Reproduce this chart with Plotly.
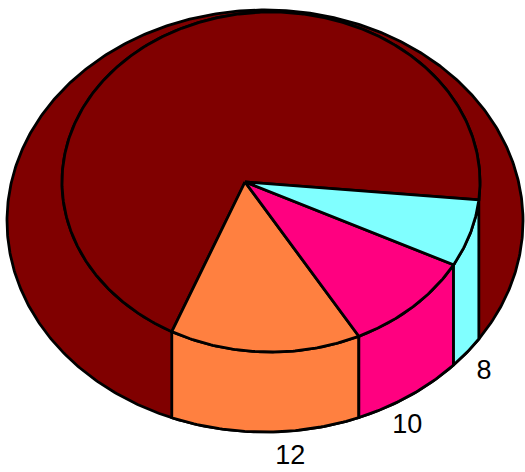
import numpy as np
import plotly.graph_objects as go

# ---- data ----
values = [70, 12, 10, 8]
value_labels = ["70", "12", "10", "8"]
show_label = [False, True, True, True]
colors = ["#800000", "#FF8040", "#FF0080", "#80FFFF"]

# ---- geometry / style (pixel-like drawing space) ----
W, H = 525, 472
top_c = (271.0, 182.0)      # top face ellipse centre
top_r = (209.0, 170.0)      # top face radii
out_c = (265.0, 221.0)      # outer (base) ellipse centre
out_r = (258.0, 211.0)      # outer radii
apex_dx = -26.0             # perspective offset of the pie centre
start_deg = 380.6           # start angle of first slice (deg, clockwise screen)
warp_amp = 21.3             # perspective angular warp (deg)
warp_phase = 157.4
label_scale, label_shift, label_pad = 0.63, 17.5, 26.0
edge = "black"
lw = 2.8
label_font = dict(family="Liberation Sans Narrow, Arial Narrow, Liberation Sans, Arial",
                  size=27, color="black")


def warp(theta):
    return theta + warp_amp * np.sin(np.radians(theta - warp_phase))


def top_pt(tdeg):
    t = np.radians(tdeg)
    return top_c[0] + top_r[0] * np.cos(t), top_c[1] + top_r[1] * np.sin(t)


def outer_lower_y(x):
    u = np.clip((x - out_c[0]) / out_r[0], -1, 1)
    return out_c[1] + out_r[1] * np.sqrt(1 - u ** 2)


fig = go.Figure()

# base / outer ellipse
tt = np.linspace(0, 2 * np.pi, 600)
fig.add_trace(go.Scatter(x=out_c[0] + out_r[0] * np.cos(tt), y=out_c[1] + out_r[1] * np.sin(tt),
                         mode="lines", fill="toself", fillcolor=colors[0],
                         line=dict(color=edge, width=lw), hoverinfo="skip"))

# top face outline
fig.add_trace(go.Scatter(x=top_c[0] + top_r[0] * np.cos(tt), y=top_c[1] + top_r[1] * np.sin(tt),
                         mode="lines", fill="toself", fillcolor=colors[0],
                         line=dict(color=edge, width=lw), hoverinfo="skip"))

total = float(sum(values))
bounds = [start_deg]
for v in values:
    bounds.append(bounds[-1] - v / total * 360.0)

apex = (top_c[0] + apex_dx, top_c[1])

walls = []
wedges = []
for i, v in enumerate(values):
    th_hi, th_lo = bounds[i], bounds[i + 1]
    t_hi, t_lo = warp(th_hi), warp(th_lo)
    ts = np.linspace(t_lo, t_hi, max(int(abs(t_hi - t_lo) * 2), 4))
    ax, ay = top_pt(ts)
    wedges.append((np.concatenate([[apex[0]], ax, [apex[0]]]),
                   np.concatenate([[apex[1]], ay, [apex[1]]]), colors[i]))
    lo = t_lo % 360.0
    hi = lo + (t_hi - t_lo)
    if 0 < lo and hi < 180:
        xa, xb = ax[0], ax[-1]
        xs = np.linspace(xb, xa, 60)
        wx = np.concatenate([ax, xs, [ax[0]]])
        wy = np.concatenate([ay, outer_lower_y(xs), [ay[0]]])
        walls.append((wx, wy, colors[i]))
        if show_label[i]:
            mid = ((th_hi + th_lo) / 2.0) % 360.0
            s = np.radians(label_scale * mid + label_shift)
            lx = out_c[0] + (out_r[0] + label_pad) * np.cos(s)
            ly = out_c[1] + (out_r[1] + label_pad) * np.sin(s)
            fig.add_trace(go.Scatter(x=[lx], y=[ly], mode="text", text=[value_labels[i]],
                                     textfont=label_font, hoverinfo="skip"))

for wx, wy, c in walls:
    fig.add_trace(go.Scatter(x=wx, y=wy, mode="lines", fill="toself", fillcolor=c,
                             line=dict(color=edge, width=lw), hoverinfo="skip"))
for wx, wy, c in wedges:
    fig.add_trace(go.Scatter(x=wx, y=wy, mode="lines", fill="toself", fillcolor=c,
                             line=dict(color=edge, width=lw), hoverinfo="skip"))

fig.update_layout(width=W, height=H, margin=dict(l=0, r=0, t=0, b=0),
                  paper_bgcolor="white", plot_bgcolor="white", showlegend=False,
                  xaxis=dict(range=[0, W], visible=False, fixedrange=True),
                  yaxis=dict(range=[H, 0], visible=False, fixedrange=True))

fig.write_html("out.html", config={"displayModeBar": False},
               post_script="document.body.style.margin='0px';document.body.style.overflow='hidden';")
